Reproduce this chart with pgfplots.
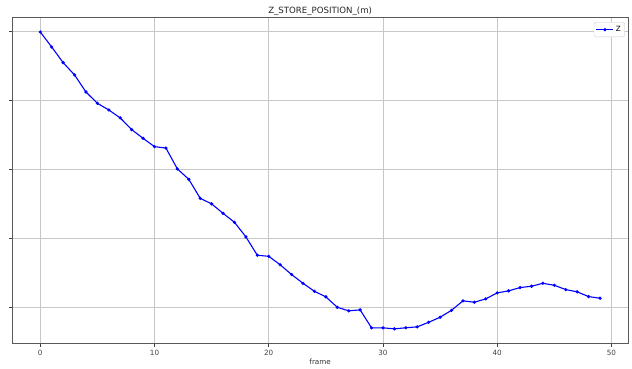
\documentclass[border=0pt]{standalone}
\usepackage{pgfplots}
\pgfplotsset{compat=1.18}
\usepackage{fontspec}
\setmainfont{DejaVu Sans}
\begin{document}
\begin{tikzpicture}
\begin{axis}[
  at={(0,0)}, anchor=south west,
  scale only axis, width=615.7pt, height=326.3pt,
  xmin=-2.45, xmax=51.45, ymin=-0.529, ymax=4.209,
  xtick={0,10,20,30,40,50}, ytick={0,1,2,3,4}, yticklabels={},
  tick align=outside, tick pos=left,
  major tick length=3pt,
  every tick/.style={black!75, line width=0.6pt},
  axis line style={black!65, line width=0.7pt},
  grid=major, grid style={black!22, line width=0.7pt},
  tick label style={font=\fontsize{7.2}{8}\selectfont, text=black!75},
  /pgf/number format/assume math mode=true,
  xlabel={frame}, xlabel style={font=\fontsize{7.2}{8}\selectfont, text=black!80, yshift=3.5pt},
  title={Z\_STORE\_POSITION\_(m)}, title style={font=\fontsize{8.6}{9}\selectfont, text=black!85, yshift=-7.5pt},
  legend style={font=\fontsize{7.2}{8}\selectfont, draw=black!20, rounded corners=1.5pt, inner sep=1.8pt, at={(0.995,0.985)}, anchor=north east},
  legend cell align=left,
]
\addplot[blue, line width=1.1pt, mark=*, mark size=1pt, mark options={fill=blue}] coordinates {
(0,3.997) (1,3.779) (2,3.552) (3,3.373) (4,3.126) (5,2.961) (6,2.865) (7,2.749) (8,2.579) (9,2.453)
(10,2.332) (11,2.312) (12,2.009) (13,1.858) (14,1.582) (15,1.501) (16,1.364) (17,1.234) (18,1.022) (19,0.755)
(20,0.740) (21,0.617) (22,0.475) (23,0.348) (24,0.232) (25,0.151) (26,0.000) (27,-0.052) (28,-0.038) (29,-0.299)
(30,-0.299) (31,-0.313) (32,-0.298) (33,-0.284) (34,-0.218) (35,-0.145) (36,-0.044) (37,0.093) (38,0.073) (39,0.122)
(40,0.209) (41,0.238) (42,0.286) (43,0.305) (44,0.348) (45,0.319) (46,0.257) (47,0.224) (48,0.155) (49,0.131)
};
\addlegendentry{Z}
\end{axis}
\pgfresetboundingbox
\useasboundingbox (-12.3pt,-25pt) rectangle (619.7pt,343.7pt);
\end{tikzpicture}
\end{document}
